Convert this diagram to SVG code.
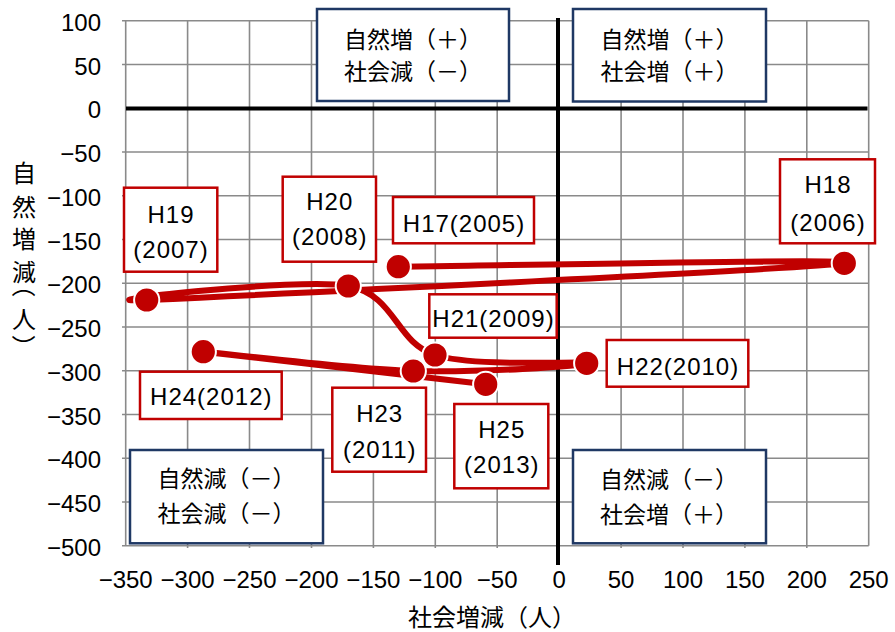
<svg xmlns="http://www.w3.org/2000/svg" width="895" height="632" viewBox="0 0 895 632">
<defs>
<style>
.grid{stroke:#8a8a8a;stroke-width:1.6;fill:none}
.axis{stroke:#000;stroke-width:4;fill:none}
.tick{font-family:"Liberation Sans","Noto Sans CJK JP",sans-serif;font-size:24px;fill:#000}
.xt{text-anchor:middle}
.yt{text-anchor:end}
.title{font-family:"Noto Sans CJK JP",sans-serif;font-size:24px;fill:#000}
.quad rect{fill:#fff;stroke:#1f3864;stroke-width:2.5}
.quad text{font-family:"Noto Sans CJK JP",sans-serif;font-size:23px;fill:#000;text-anchor:middle}
.lbl rect{fill:#fff;stroke:#c00000;stroke-width:2.5}
.lbl text{font-family:"Liberation Sans","Noto Sans CJK JP",sans-serif;font-size:24px;fill:#000;text-anchor:middle;letter-spacing:1px}
.series{fill:none;stroke:#c00000;stroke-width:6;stroke-linejoin:round}
.mk{fill:#c00000;stroke:#fff;stroke-width:2}
</style>
<clipPath id="plot"><rect x="125.7" y="20.7" width="743" height="525"/></clipPath>
</defs>
<rect width="895" height="632" fill="#fff"/>
<g id="grid">
<path class="grid" d="M125.7,20.7V545.7M187.6,20.7V548M249.5,20.7V548M311.5,20.7V548M373.4,20.7V548M435.3,20.7V548M497.2,20.7V548M621.1,20.7V548M683,20.7V548M744.9,20.7V548M806.8,20.7V548M868.7,20.7V545.7"/>
<path class="grid" d="M122,20.7H868.7M122,64.45H868.7M122,151.95H868.7M122,195.7H868.7M122,239.45H868.7M122,283.2H868.7M122,326.95H868.7M122,370.7H868.7M122,414.45H868.7M122,458.2H868.7M122,501.95H868.7M122,545.7H868.7"/>
</g>
<g id="axes">
<path class="axis" d="M126,108.5H867.5"/>
<path class="axis" d="M558,18V565"/>
</g>
<g id="y-ticks" class="tick yt">
<text x="101" y="31">100</text>
<text x="101" y="74.5">50</text>
<text x="101" y="118.2">0</text>
<text x="101" y="162">−50</text>
<text x="101" y="205.7">−100</text>
<text x="101" y="249.5">−150</text>
<text x="101" y="293.2">−200</text>
<text x="101" y="337">−250</text>
<text x="101" y="380.7">−300</text>
<text x="101" y="424.5">−350</text>
<text x="101" y="468.2">−400</text>
<text x="101" y="512">−450</text>
<text x="101" y="555.7">−500</text>
</g>
<g id="x-ticks" class="tick xt">
<text x="125.7" y="588">−350</text>
<text x="187.6" y="588">−300</text>
<text x="249.5" y="588">−250</text>
<text x="311.5" y="588">−200</text>
<text x="373.4" y="588">−150</text>
<text x="435.3" y="588">−100</text>
<text x="497.2" y="588">−50</text>
<text x="559.1" y="588">0</text>
<text x="621.1" y="588">50</text>
<text x="683" y="588">100</text>
<text x="744.9" y="588">150</text>
<text x="806.8" y="588">200</text>
<text x="868.7" y="588">250</text>
</g>
<g id="x-title"><text class="title" x="492" y="626" text-anchor="middle">社会増減（人）</text></g>
<g id="y-title"><text class="title"><tspan x="12" y="181.5">自</tspan><tspan x="12" y="215.7">然</tspan><tspan x="12" y="248">増</tspan><tspan x="12" y="280.5">減</tspan><tspan x="15.4" y="273.2" rotate="90">（</tspan><tspan x="12" y="328">人</tspan><tspan x="15.4" y="334.7" rotate="90">）</tspan></text></g>
<g id="q-tl" class="quad"><rect x="317" y="9" width="192" height="92"/><text x="413" y="47.7">自然増（＋）</text><text x="413" y="80.4">社会減（－）</text></g>
<g id="q-tr" class="quad"><rect x="573" y="9" width="193" height="92.5"/><text x="669.5" y="47.7">自然増（＋）</text><text x="669.5" y="80.4">社会増（＋）</text></g>
<g id="q-bl" class="quad"><rect x="130" y="450" width="193" height="93.3"/><text x="226.5" y="487">自然減（－）</text><text x="226.5" y="522">社会減（－）</text></g>
<g id="q-br" class="quad"><rect x="573" y="450" width="193" height="93.3"/><text x="669" y="487.5">自然減（－）</text><text x="669" y="522.5">社会増（＋）</text></g>
<g id="connectors" clip-path="url(#plot)">
<path class="series" d="M398.3,266.7C472.6,266.1 885.8,257.5 844.3,263.3C802.8,269.1 229.6,296.2 146.7,300C63.8,303.8 300.3,276.8 348.3,286C396.3,295.2 395,342.2 435,355C475,367.8 590.4,360.5 586.7,363.3C583,366.1 477.2,372.9 413.3,371C349.4,369.1 190.9,349.6 203.3,351.7C215.7,353.8 438.6,378.5 485.7,384.3"/>
</g>
<g id="markers">
<circle class="mk" cx="398.3" cy="266.7" r="12.6"/>
<circle class="mk" cx="844.3" cy="263.3" r="12.6"/>
<circle class="mk" cx="146.7" cy="300" r="12.6"/>
<circle class="mk" cx="348.3" cy="286" r="12.6"/>
<circle class="mk" cx="435" cy="355" r="12.6"/>
<circle class="mk" cx="586.7" cy="363.3" r="12.6"/>
<circle class="mk" cx="413.3" cy="371" r="12.6"/>
<circle class="mk" cx="203.3" cy="351.7" r="12.6"/>
<circle class="mk" cx="485.7" cy="384.3" r="12.6"/>
</g>
<g id="lbl-h17" class="lbl"><rect x="393" y="197" width="141" height="46.3"/><text x="464" y="232">H17(2005)</text></g>
<g id="lbl-h18" class="lbl"><rect x="780" y="159.3" width="95" height="84"/><text x="828" y="193">H18</text><text x="828" y="231">(2006)</text></g>
<g id="lbl-h19" class="lbl"><rect x="124" y="187.7" width="93.3" height="84"/><text x="171" y="223">H19</text><text x="171" y="258">(2007)</text></g>
<g id="lbl-h20" class="lbl"><rect x="282.7" y="176.7" width="93.3" height="85"/><text x="329.8" y="210">H20</text><text x="329.8" y="245">(2008)</text></g>
<g id="lbl-h21" class="lbl"><rect x="429.3" y="294.3" width="127.4" height="43.4"/><text x="493.5" y="327">H21(2009)</text></g>
<g id="lbl-h22" class="lbl"><rect x="606.7" y="340" width="141.6" height="46.7"/><text x="678" y="375">H22(2010)</text></g>
<g id="lbl-h23" class="lbl"><rect x="332.3" y="387.7" width="93.7" height="84"/><text x="379.7" y="422">H23</text><text x="379.7" y="458">(2011)</text></g>
<g id="lbl-h24" class="lbl"><rect x="140" y="371.7" width="141.7" height="47.3"/><text x="211.3" y="405">H24(2012)</text></g>
<g id="lbl-h25" class="lbl"><rect x="454.3" y="404" width="94" height="84.3"/><text x="501.8" y="438">H25</text><text x="501.8" y="473">(2013)</text></g>
</svg>
